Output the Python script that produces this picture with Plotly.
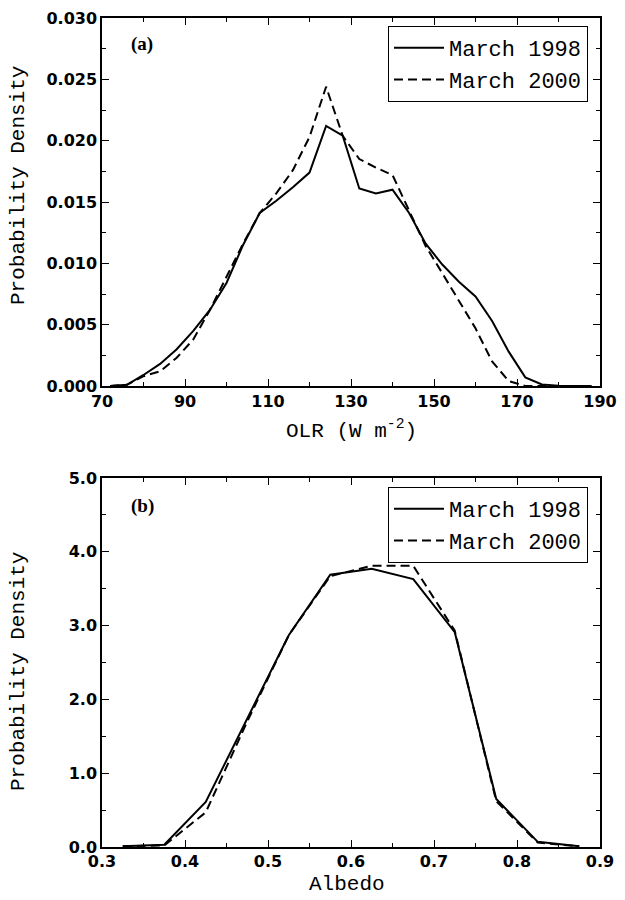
import plotly.graph_objects as go

# Panel (a): OLR
olr = [72, 76, 80, 84, 88, 92, 96, 100, 104, 108, 112, 116, 120, 124, 128, 132, 136, 140,
       144, 148, 152, 156, 160, 164, 168, 172, 176, 180, 184, 188]
olr_1998 = [0.0, 0.0001, 0.0009, 0.0018, 0.0030, 0.0045, 0.0062, 0.0084, 0.0115, 0.0141,
            0.0151, 0.0162, 0.0174, 0.0212, 0.0204, 0.0161, 0.0157, 0.0160, 0.0141, 0.0116,
            0.0099, 0.0085, 0.0073, 0.0053, 0.0028, 0.0007, 0.00013, 0.00003, 0.0, 0.0]
olr_2000 = [0.0, 0.0001, 0.0008, 0.0012, 0.0023, 0.0038, 0.0062, 0.0089, 0.0116, 0.0141,
            0.0157, 0.0176, 0.0203, 0.0244, 0.0204, 0.0185, 0.0178, 0.0172, 0.0143, 0.0114,
            0.0092, 0.0070, 0.0047, 0.0020, 0.0004, 0.0, 0.0, 0.0, 0.0, 0.0]

# Panel (b): Albedo
alb = [0.325, 0.375, 0.425, 0.475, 0.525, 0.575, 0.625, 0.675, 0.725, 0.775, 0.825, 0.875]
alb_1998 = [0.01, 0.03, 0.61, 1.73, 2.87, 3.69, 3.77, 3.63, 2.91, 0.65, 0.07, 0.01]
alb_2000 = [0.01, 0.02, 0.47, 1.70, 2.87, 3.67, 3.81, 3.81, 2.93, 0.62, 0.06, 0.01]

labels = ["March 1998", "March 2000"]

# page body has an 8px margin; the figure fills the rest of the 625x900 window
OFF = 8
W, H = 625 - OFF, 900 - OFF
def px(x): return (x - OFF) / W
def py(y): return 1 - (y - OFF) / H

fig = go.Figure()
dash = "9px,5px"
fig.add_trace(go.Scatter(x=olr, y=olr_1998, mode="lines", name=labels[0],
                         line=dict(color="black", width=2), xaxis="x", yaxis="y", legend="legend"))
fig.add_trace(go.Scatter(x=olr, y=olr_2000, mode="lines", name=labels[1],
                         line=dict(color="black", width=2, dash=dash), xaxis="x", yaxis="y", legend="legend"))
fig.add_trace(go.Scatter(x=alb, y=alb_1998, mode="lines", name=labels[0],
                         line=dict(color="black", width=2), xaxis="x2", yaxis="y2", legend="legend2"))
fig.add_trace(go.Scatter(x=alb, y=alb_2000, mode="lines", name=labels[1],
                         line=dict(color="black", width=2, dash=dash), xaxis="x2", yaxis="y2", legend="legend2"))

tickfont = dict(family="DejaVu Sans", size=16, color="black", weight="bold")
common = dict(showline=True, linecolor="black", linewidth=1.5, mirror="ticks", ticks="inside",
              ticklen=7, tickwidth=1.2, tickcolor="black", showgrid=False, zeroline=False,
              tickfont=tickfont, automargin=False)

xdom = [px(102), px(600)]
legfont = dict(family="Courier New, Liberation Mono, monospace", size=22, color="black")
fig.update_layout(
    width=W, height=H, margin=dict(l=0, r=0, t=0, b=0),
    paper_bgcolor="white", plot_bgcolor="white",
    xaxis=dict(domain=xdom, anchor="y", range=[70, 190], tick0=70, dtick=20, ticklabelstandoff=0,
               minor=dict(dtick=10, ticklen=4, ticks="inside", tickcolor="black"), **common),
    yaxis=dict(domain=[py(386), py(18)], anchor="x", range=[0, 0.030], dtick=0.005,
               tickformat=".3f",
               minor=dict(dtick=0.0025, ticklen=4, ticks="inside", tickcolor="black"), **common),
    xaxis2=dict(domain=xdom, anchor="y2", range=[0.3, 0.9], tick0=0.3, dtick=0.1, tickformat=".1f",
                ticklabelstandoff=-1,
                minor=dict(dtick=0.05, ticklen=4, ticks="inside", tickcolor="black"), **common),
    yaxis2=dict(domain=[py(847), py(478)], anchor="x2", range=[0, 5], dtick=1, tickformat=".1f",
                minor=dict(dtick=0.5, ticklen=4, ticks="inside", tickcolor="black"), **common),
    legend=dict(x=px(588), y=py(26), xanchor="right", yanchor="top", bordercolor="black",
                borderwidth=1, bgcolor="white", font=legfont, tracegroupgap=0, itemwidth=50),
    legend2=dict(x=px(588), y=py(487), xanchor="right", yanchor="top", bordercolor="black",
                 borderwidth=1, bgcolor="white", font=legfont, tracegroupgap=0, itemwidth=50),
)

titlefont = dict(family="Courier New, Liberation Mono, monospace", size=21, color="black")
ann = [
    dict(text="<b>(a)</b>", x=px(142), y=py(44), font=dict(family="Liberation Serif", size=19, color="black")),
    dict(text="<b>(b)</b>", x=px(142), y=py(506), font=dict(family="Liberation Serif", size=19, color="black")),
    dict(text="Probability Density", x=px(18), y=py(186), textangle=-90, font=titlefont),
    dict(text="Probability Density", x=px(18), y=py(672), textangle=-90, font=titlefont),
    dict(text="OLR (W m<sup>-2</sup>)", x=px(351), y=py(430), font=titlefont),
    dict(text="Albedo", x=px(347), y=py(884), font=titlefont),
]
for a in ann:
    fig.add_annotation(xref="paper", yref="paper", showarrow=False, xanchor="center",
                       yanchor="middle", **a)

fig.write_html("out.html")
